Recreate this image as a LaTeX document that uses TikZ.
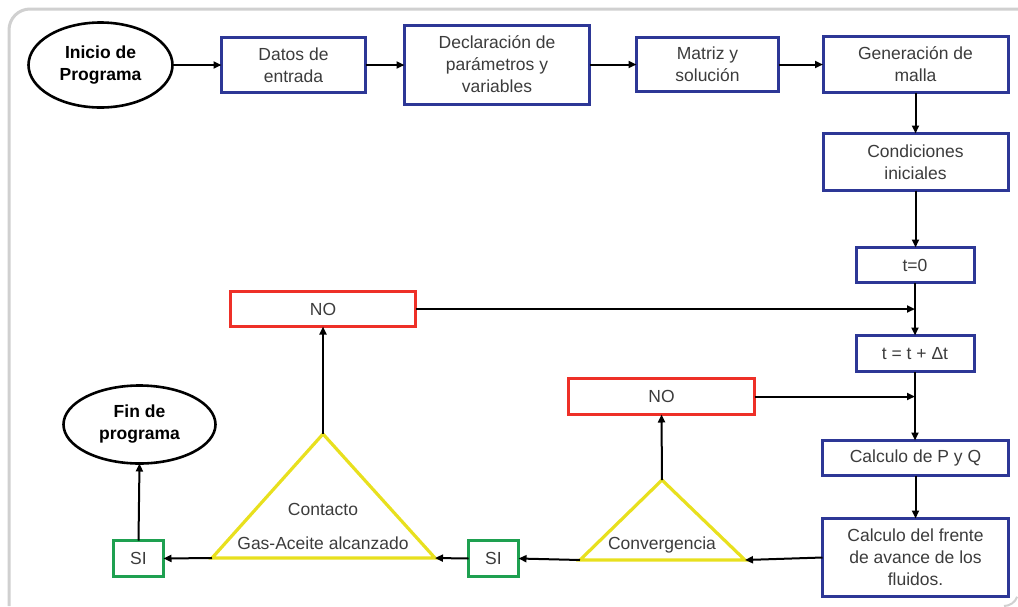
\documentclass[tikz,border=0pt]{standalone}
\usepackage{fontspec}
\setmainfont{Liberation Sans}
\usetikzlibrary{arrows.meta,shapes.geometric}
\definecolor{bx}{RGB}{45,55,150}
\definecolor{rd}{RGB}{238,48,40}
\definecolor{gr}{RGB}{30,160,80}
\definecolor{yl}{RGB}{232,224,30}
\definecolor{tx}{RGB}{60,60,60}
\definecolor{fr}{RGB}{208,208,208}
\begin{document}
\begin{tikzpicture}[x=1pt,y=-1pt,
  every node/.style={font=\fontsize{17.5}{22}\selectfont, text=tx, align=center, inner sep=0pt, outer sep=0pt},
  bbox/.style={draw=bx, line width=3pt, fill=white},
  nbox/.style={draw=rd, line width=3pt, fill=white},
  sbox/.style={draw=gr, line width=3pt, fill=white},
  oval/.style={draw=black, line width=2.6pt, ellipse, text=black, font=\fontsize{17.5}{22}\selectfont\bfseries},
  tri/.style={draw=yl, line width=3.2pt, line join=miter},
  conn/.style={draw=black, line width=2pt, -{Triangle[length=8pt,width=7pt]}}
]
\useasboundingbox (0,0) rectangle (1018,606);
% frame
\draw[fr, line width=3pt] (9,606) -- (9,30) arc[start angle=180, end angle=270, radius=21] -- (1018,9);
\draw[fr, line width=2pt] (1004,606) arc[start angle=90, end angle=20, radius=14];

% top row
\node[oval, minimum width=144pt, minimum height=85pt] (ini) at (100.5,65) {Inicio de\\Programa};
\node[bbox, minimum width=144pt, minimum height=55pt] (datos) at (293.5,65) {Datos de\\entrada};
\node[bbox, minimum width=185pt, minimum height=79pt] (decl) at (497,64.5) {Declaración de\\parámetros y\\variables};
\node[bbox, minimum width=142pt, minimum height=54pt] (mat) at (707.5,64.5) {Matriz y\\solución};
\node[bbox, minimum width=185pt, minimum height=56pt] (gen) at (915.5,64.5) {Generación de\\malla};
% right column
\node[bbox, minimum width=185pt, minimum height=57pt] (cond) at (915.5,162) {Condiciones\\iniciales};
\node[bbox, minimum width=118pt, minimum height=35pt] (t0) at (915,265) {t=0};
\node[bbox, minimum width=118pt, minimum height=36pt] (tdt) at (915,353.5) {t = t + Δt};
\node[bbox, minimum width=186pt, minimum height=35pt] (pq) at (915.5,458) {Calculo de P y Q};
\node[bbox, minimum width=186pt, minimum height=78pt] (fr) at (915.5,557.5) {Calculo del frente\\de avance de los\\fluidos.};
% NO boxes
\node[nbox, minimum width=185pt, minimum height=35pt] (no1) at (323,309) {NO};
\node[nbox, minimum width=186pt, minimum height=36pt] (no2) at (661.5,396.5) {NO};
% SI boxes
\node[sbox, minimum width=50pt, minimum height=36pt] (si1) at (493.5,558.5) {SI};
\node[sbox, minimum width=50pt, minimum height=36pt] (si2) at (138.5,558.5) {SI};
% Fin
\node[oval, minimum width=152pt, minimum height=78pt] (fin) at (139.5,424.5) {Fin de\\programa};

% triangles
\coordinate (convA) at (662,480);
\coordinate (convL) at (580,560);
\coordinate (convR) at (745,560);
\draw[tri] (convA) -- (convR) -- (convL) -- cycle;
\node (convT) at (662,545) {Convergencia};
\coordinate (contA) at (323,434);
\coordinate (contL) at (212,558);
\coordinate (contR) at (435,558);
\draw[tri] (contA) -- (contR) -- (contL) -- cycle;
\node (contT1) at (323,509) {Contacto};
\node (contT2) at (323,543) {Gas-Aceite alcanzado};

% merge points
\coordinate (m1) at (t0.south |- no1.east);
\coordinate (m2) at (tdt.south |- no2.east);

% connectors
\draw[conn] (ini.east) -- (datos.west);
\draw[conn] (datos.east) -- (datos.east -| decl.west);
\draw[conn] (decl.east) -- (mat.west);
\draw[conn] (mat.east) -- (gen.west);
\draw[conn] (gen.south) -- (cond.north);
\draw[conn] (cond.south) -- (cond.south |- t0.north);
\draw[conn] (t0.south) -- (tdt.north);
\draw[conn] (no1.east) -- (m1);
\draw[conn] (tdt.south) -- (tdt.south |- pq.north);
\draw[conn] (no2.east) -- (m2);
\draw[conn] (pq.south) -- (fr.north);
\draw[conn] (fr.west) -- (convR);
\draw[conn] (convL) -- (si1.east);
\draw[conn] (convA) -- (no2.south);
\draw[conn] (si1.west) -- (contR);
\draw[conn] (contL) -- (si2.east);
\draw[conn] (contA) -- (no1.south);
\draw[conn] (si2.north) -- (fin.south);
\end{tikzpicture}
\end{document}
